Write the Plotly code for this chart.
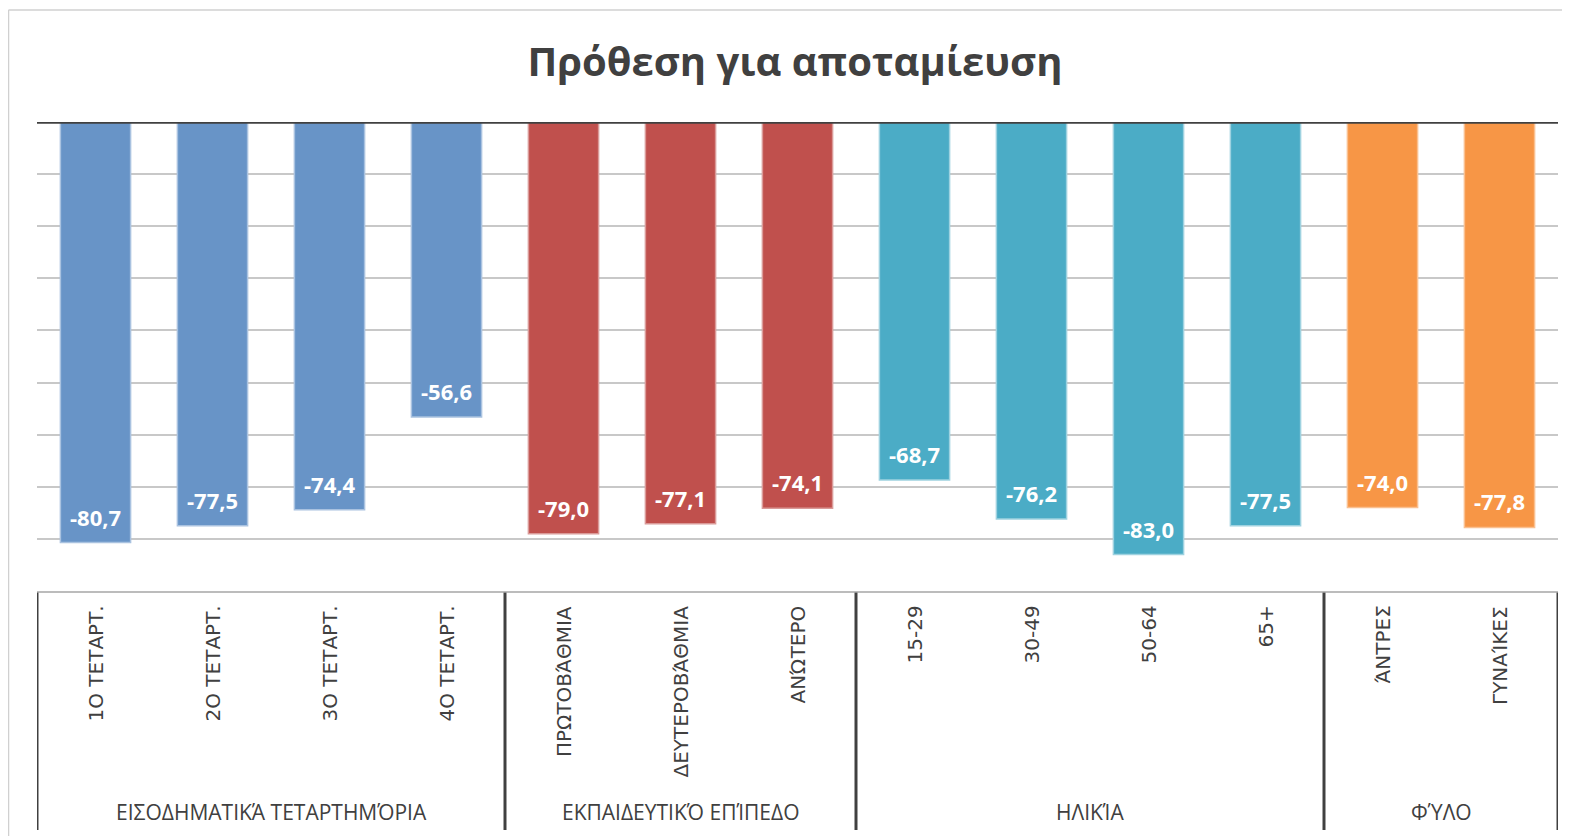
import plotly.graph_objects as go

title = "Πρόθεση για αποταμίευση"
groups = ["ΕΙΣΟΔΗΜΑΤΙΚΆ ΤΕΤΑΡΤΗΜΌΡΙΑ", "ΕΚΠΑΙΔΕΥΤΙΚΌ ΕΠΊΠΕΔΟ", "ΗΛΙΚΊΑ", "ΦΎΛΟ"]
group_sizes = [4, 3, 4, 2]
categories = ["1Ο ΤΕΤΑΡΤ.", "2Ο ΤΕΤΑΡΤ.", "3Ο ΤΕΤΑΡΤ.", "4Ο ΤΕΤΑΡΤ.",
              "ΠΡΩΤΟΒΆΘΜΙΑ", "ΔΕΥΤΕΡΟΒΆΘΜΙΑ", "ΑΝΏΤΕΡΟ",
              "15-29", "30-49", "50-64", "65+",
              "ΆΝΤΡΕΣ", "ΓΥΝΑΊΚΕΣ"]
values = [-80.7, -77.5, -74.4, -56.6,
          -79.0, -77.1, -74.1,
          -68.7, -76.2, -83.0, -77.5,
          -74.0, -77.8]
group_colors = ["#6894C7", "#C0504D", "#4BACC6", "#F79646"]
group_edges = ["#A9C2E0", "#DA9A98", "#9ED2E0", "#FAC090"]

colors, edges = [], []
for c, e, n in zip(group_colors, group_edges, group_sizes):
    colors += [c] * n
    edges += [e] * n

# page is rendered with an 8px body margin
OFF = 8
W, H = 1562, 828
L, R, T, B = 29, 12, 114, 245
plot_h = H - T - B
plot_w = W - L - R

def py(page_y):
    return (H - B - (page_y - OFF)) / plot_h

def px(page_x):
    return ((page_x - OFF) - L) / plot_w

fig = go.Figure()
fig.add_trace(go.Bar(
    x=categories, y=values,
    marker=dict(color=colors, line=dict(color=edges, width=1.5)),
    width=0.6, hoverinfo="skip",
))

annotations = []
for c, v in zip(categories, values):
    annotations.append(dict(
        x=c, y=v, xref="x", yref="y", text=f"{v:.1f}".replace(".", ","),
        showarrow=False, yanchor="bottom", yshift=9,
        font=dict(family="Open Sans, sans-serif", size=22, color="white", weight="bold"),
    ))
for c in categories:
    annotations.append(dict(
        x=c, y=py(604), xref="x", yref="paper", text=c, showarrow=False,
        textangle=-90, yanchor="top", xanchor="center",
        font=dict(family="DejaVu Sans, Verdana, sans-serif", size=20, color="#404040"),
    ))
start = 0
shapes = []
bounds = [-0.5]
for g, n in zip(groups, group_sizes):
    mid = start + (n - 1) / 2
    annotations.append(dict(
        x=mid, y=py(812), xref="x", yref="paper", text=g, showarrow=False,
        yanchor="middle", xanchor="center",
        font=dict(family="Open Sans, sans-serif", size=21, color="#404040"),
    ))
    start += n
    bounds.append(start - 0.5)

for b in bounds:
    shapes.append(dict(type="line", xref="x", yref="paper", x0=b, x1=b,
                       y0=py(592), y1=py(830), line=dict(color="#404040", width=3)))
shapes.append(dict(type="line", xref="paper", yref="paper", x0=0, x1=1,
                   y0=py(592), y1=py(592), line=dict(color="#a6a6a6", width=1.5)))
shapes.append(dict(type="line", xref="paper", yref="y", x0=0, x1=1, y0=0, y1=0,
                   line=dict(color="#404040", width=3.5)))
shapes.append(dict(type="line", xref="paper", yref="paper", x0=px(8.5), x1=px(8.5),
                   y0=py(10), y1=py(H + 20), line=dict(color="#d0d0d0", width=1.5)))
shapes.append(dict(type="line", xref="paper", yref="paper", x0=px(8.5), x1=px(W + 20),
                   y0=py(10), y1=py(10), line=dict(color="#d0d0d0", width=1.5)))

fig.update_layout(
    width=W, height=H,
    margin=dict(l=L, r=R, t=T, b=B),
    paper_bgcolor="white", plot_bgcolor="white",
    showlegend=False,
    title=dict(text=title, x=(px(795)), xref="paper", xanchor="center",
               y=1 - (62 - OFF) / H, yanchor="middle",
               font=dict(family="Open Sans, sans-serif", size=40, color="#404040", weight="bold")),
    xaxis=dict(type="category", showticklabels=False, showgrid=False, zeroline=False,
               showline=False, ticks="", range=[-0.5, len(categories) - 0.5]),
    yaxis=dict(range=[-90, 0], dtick=10, showticklabels=False, ticks="",
               gridcolor="#c8c8c8", gridwidth=1.5, zeroline=False, showline=False),
    annotations=annotations,
    shapes=shapes,
)

fig.write_html("out.html")
